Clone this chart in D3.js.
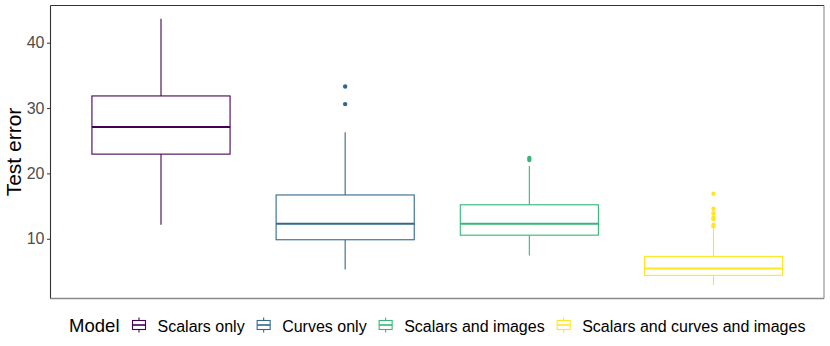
<!DOCTYPE html>
<html>
<head>
<meta charset="utf-8">
<script src="https://cdn.jsdelivr.net/npm/d3@7"></script>
<style>
  body { margin: 0; background: #fff; }
  text { font-family: "Liberation Sans", Arial, Helvetica, sans-serif; }
</style>
</head>
<body>
<div id="chart"></div>
<script>
// values
let models = ["Scalars only", "Curves only", "Scalars and images", "Scalars and curves and images"];
let colors = ["#440154", "#31688E", "#35B779", "#FDE725"];
let whiskLow = [12.15, 5.3, 7.45, 2.9];
let q1 = [22.95, 9.85, 10.55, 4.4];
let medians = [27.1, 12.3, 12.3, 5.45];
let q3 = [31.85, 16.7, 15.2, 7.3];
let whiskHigh = [43.65, 26.3, 21.15, 11.6];
let outliers = [
  [],
  [30.6, 33.3],
  [22.05, 22.35],
  [11.9, 12.15, 13.0, 13.25, 13.9, 14.6, 16.9]
];
let yTicks = [10, 20, 30, 40];

let W = 830, H = 346;
let margin = {top: 5.5, right: 6, bottom: 47.5, left: 50.5},
width = W - margin.left - margin.right,
height = H - margin.top - margin.bottom;

let svg = d3.select("#chart")
  .append("svg")
  .attr("width", W)
  .attr("height", H);

let g = svg.append("g")
  .attr("transform", "translate(" + margin.left + "," + margin.top + ")");

// ggplot-like expansion: 5% on continuous, 0.6 on discrete
let lo = d3.min(whiskLow), hi = d3.max(whiskHigh);
let pad = (hi - lo) * 0.05;
let y = d3.scaleLinear()
  .domain([lo - pad, hi + pad])
  .range([height, 0]);

let x = d3.scaleLinear()
  .domain([0.4, models.length + 0.6])
  .range([0, width]);
let boxW = x(1.75) - x(1);

// y axis
let yAxis = g.append("g")
  .call(d3.axisLeft(y).tickValues(yTicks).tickSize(3.5).tickPadding(2.5));
yAxis.select(".domain").remove();
yAxis.selectAll("line").attr("stroke", "#333").attr("stroke-width", 1);
yAxis.selectAll("text")
  .attr("fill", "#4d4d4d")
  .style("font-size", "16px");

svg.append("text")
  .attr("transform", "translate(21," + (margin.top + height / 2) + ") rotate(-90)")
  .attr("text-anchor", "middle")
  .style("font-size", "21px")
  .attr("fill", "#000")
  .text("Test error");

// boxes
models.forEach(function(m, i) {
  let cx = x(i + 1);
  let c = colors[i];
  let b = g.append("g");
  b.append("line")
    .attr("x1", cx).attr("x2", cx)
    .attr("y1", y(q3[i])).attr("y2", y(whiskHigh[i]))
    .attr("stroke", c).attr("stroke-width", 1.1);
  b.append("line")
    .attr("x1", cx).attr("x2", cx)
    .attr("y1", y(q1[i])).attr("y2", y(whiskLow[i]))
    .attr("stroke", c).attr("stroke-width", 1.1);
  b.append("rect")
    .attr("x", cx - boxW / 2)
    .attr("y", y(q3[i]))
    .attr("width", boxW)
    .attr("height", y(q1[i]) - y(q3[i]))
    .attr("fill", "#fff")
    .attr("stroke", c).attr("stroke-width", 1.1);
  b.append("line")
    .attr("x1", cx - boxW / 2).attr("x2", cx + boxW / 2)
    .attr("y1", y(medians[i])).attr("y2", y(medians[i]))
    .attr("stroke", c).attr("stroke-width", 2.2);
  b.selectAll("circle")
    .data(outliers[i])
    .enter()
    .append("circle")
    .attr("cx", cx)
    .attr("cy", d => y(d))
    .attr("r", 2.2)
    .attr("fill", c);
});

// panel border
g.append("line").attr("x1", 0).attr("x2", width).attr("y1", 0).attr("y2", 0)
  .attr("stroke", "#333").attr("stroke-width", 1);
g.append("line").attr("x1", width).attr("x2", width).attr("y1", 0).attr("y2", height)
  .attr("stroke", "#8a8a8a").attr("stroke-width", 1.1);
g.append("line").attr("x1", 0).attr("x2", width).attr("y1", height).attr("y2", height)
  .attr("stroke", "#8a8a8a").attr("stroke-width", 1.6);
g.append("line").attr("x1", 0).attr("x2", 0).attr("y1", 0).attr("y2", height)
  .attr("stroke", "#333").attr("stroke-width", 1.1);

// legend
let legend = svg.append("g");
let ly = 325;
let title = legend.append("text")
  .attr("x", 0)
  .attr("y", ly + 7)
  .style("font-size", "18.5px")
  .attr("fill", "#000")
  .text("Model");
let pos = title.node().getComputedTextLength() + 12;
models.forEach(function(m, i) {
  let k = legend.append("g").attr("transform", "translate(" + (pos + 7.5) + "," + ly + ")");
  let c = colors[i];
  k.append("line").attr("x1", 0).attr("x2", 0).attr("y1", -7.5).attr("y2", 7.5)
    .attr("stroke", c).attr("stroke-width", 1.1);
  k.append("rect").attr("x", -6.5).attr("y", -4.5).attr("width", 13).attr("height", 9)
    .attr("fill", "#fff").attr("stroke", c).attr("stroke-width", 1.1);
  k.append("line").attr("x1", -6.5).attr("x2", 6.5).attr("y1", 0).attr("y2", 0)
    .attr("stroke", c).attr("stroke-width", 1.6);
  pos += 26;
  let t = legend.append("text")
    .attr("x", pos)
    .attr("y", ly + 7)
    .style("font-size", "16px")
    .attr("fill", "#000")
    .text(m);
  pos += t.node().getComputedTextLength() + 11.5;
});
let lw = pos - 11.5;
legend.attr("transform", "translate(" + (margin.left + width / 2 - lw / 2) + ",0)");
</script>
</body>
</html>
